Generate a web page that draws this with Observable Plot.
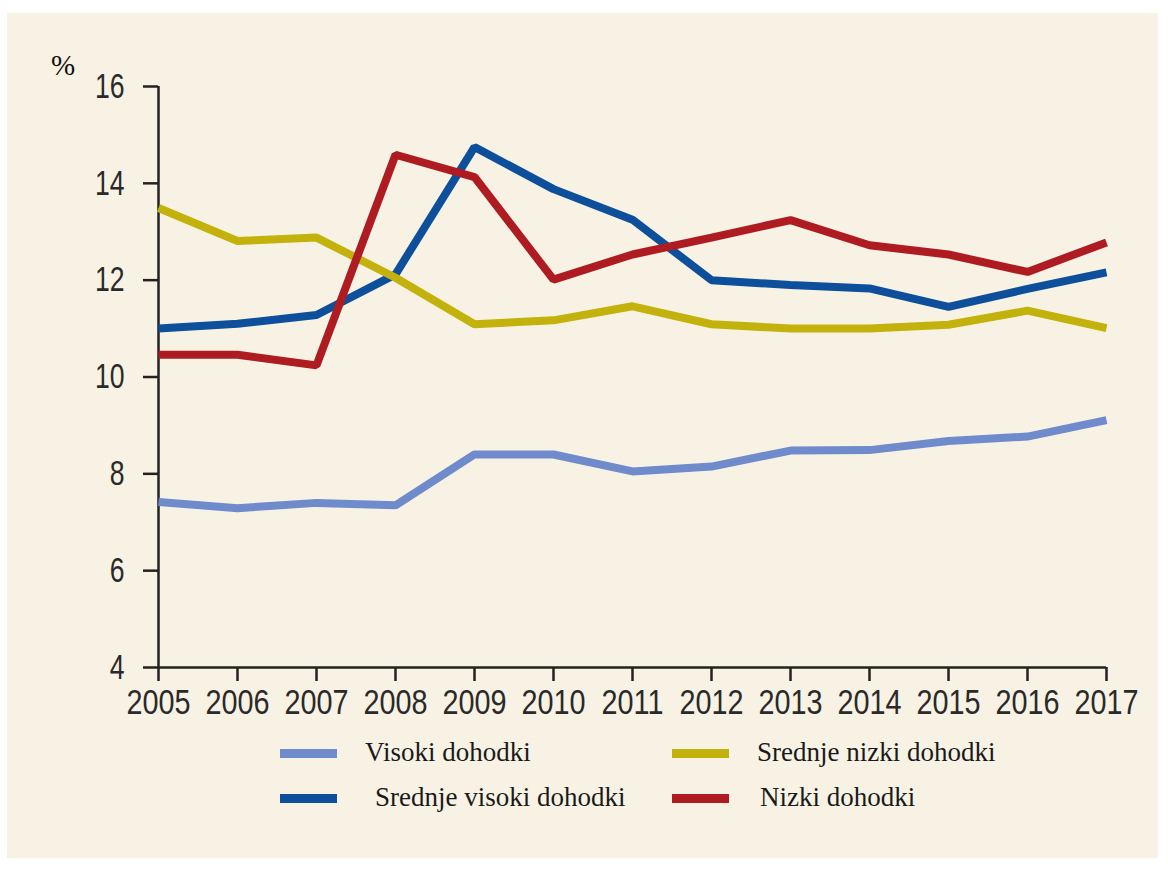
<!DOCTYPE html>
<html>
<head>
<meta charset="utf-8">
<script src="https://cdn.jsdelivr.net/npm/d3@7"></script>
<script src="https://cdn.jsdelivr.net/npm/@observablehq/plot@0.6"></script>
<style>
  html, body { margin: 0; padding: 0; background: #ffffff; width: 1168px; height: 869px; overflow: hidden; }
  #box { position: absolute; left: 7px; top: 13px; width: 1151px; height: 845px; background: #f8f2e4; }
  #chart { position: absolute; left: 0; top: 0; }
  #unit { position: absolute; left: 44px; top: 36px; font-family: "Liberation Serif", "Times New Roman", serif; font-size: 29px; color: #111; }
  .lg { position: absolute; font-family: "Liberation Serif", "Times New Roman", serif; font-size: 27px; color: #1a1a1a; line-height: 1; }
  .sw { position: absolute; width: 57px; height: 9px; }
</style>
</head>
<body>
<div id="box">
  <div id="chart"></div>
  <div id="unit">%</div>
  <div id="legend"></div>
</div>
<script>
const years = [2005, 2006, 2007, 2008, 2009, 2010, 2011, 2012, 2013, 2014, 2015, 2016, 2017];
const seriesNames = ["Visoki dohodki", "Srednje visoki dohodki", "Srednje nizki dohodki", "Nizki dohodki"];
const visoki        = [7.42, 7.29, 7.40, 7.35, 8.40, 8.40, 8.05, 8.15, 8.48, 8.49, 8.68, 8.77, 9.11];
const srednjeVisoki = [11.00, 11.10, 11.28, 12.12, 14.75, 13.88, 13.25, 12.00, 11.90, 11.83, 11.45, 11.82, 12.16];
const srednjeNizki  = [13.49, 12.81, 12.88, 12.05, 11.09, 11.17, 11.46, 11.09, 11.00, 11.00, 11.08, 11.37, 11.01];
const nizki         = [10.46, 10.46, 10.24, 14.59, 14.13, 12.01, 12.53, 12.88, 13.24, 12.72, 12.53, 12.17, 12.78];
const yTicks = [4, 6, 8, 10, 12, 14, 16];
const colors = ["#6f8bcb", "#0d4f9b", "#c3b20c", "#ae1c22"];

const seriesValues = [visoki, srednjeVisoki, srednjeNizki, nizki];
const data = [];
seriesNames.forEach((name, i) => {
  years.forEach((yr, j) => data.push({ series: name, year: yr, value: seriesValues[i][j] }));
});

const tickFont = '"Liberation Sans", Arial, sans-serif';

const plot = Plot.plot({
  width: 1151,
  height: 725,
  marginLeft: 151,
  marginRight: 52,
  marginTop: 73,
  marginBottom: 71,
  style: { background: "transparent", fontFamily: tickFont, color: "#222" },
  x: { domain: [2005, 2017], label: null },
  y: { domain: [4, 16], label: null },
  color: { domain: seriesNames, range: colors },
  marks: [
    Plot.axisX({ ticks: years, tickFormat: d => String(d), tickSize: 14, tickPadding: 7, fontSize: 36, strokeWidth: 2.5, stroke: "#222", fill: "#2a2a2a", label: null }),
    Plot.axisY({ ticks: yTicks, tickSize: 15, tickPadding: 19, fontSize: 35, strokeWidth: 2.5, stroke: "#222", fill: "#2a2a2a", label: null }),
    Plot.ruleX([2005], { y1: 4, y2: 16, stroke: "#222", strokeWidth: 2.5 }),
    Plot.ruleY([4], { x1: 2005, x2: 2017, stroke: "#222", strokeWidth: 2.5 }),
    Plot.line(data, { x: "year", y: "value", stroke: "series", z: "series", strokeWidth: 8, strokeLinecap: "butt", strokeLinejoin: "miter" })
  ]
});

// condense tick label glyphs horizontally (narrow font look)
function condense(sel, sx) {
  plot.querySelectorAll(sel).forEach(t => {
    const tr = t.getAttribute("transform");
    if (tr) {
      t.setAttribute("transform", tr + ` scale(${sx},1)`);
    } else {
      const x = t.getAttribute("x") || 0, y = t.getAttribute("y") || 0;
      t.removeAttribute("x"); t.removeAttribute("y");
      t.setAttribute("transform", `translate(${x},${y}) scale(${sx},1)`);
    }
  });
}
condense('g[aria-label="x-axis tick label"] text', 0.8);
condense('g[aria-label="y-axis tick label"] text', 0.76);
document.getElementById("chart").appendChild(plot);

// legend
const legendPos = [
  { sx: 273, tx: 358, y: 740 },
  { sx: 273, tx: 368, y: 785 },
  { sx: 665, tx: 750, y: 740 },
  { sx: 665, tx: 753, y: 785 }
];
const lg = document.getElementById("legend");
seriesNames.forEach((name, i) => {
  const p = legendPos[i];
  const sw = document.createElement("div");
  sw.className = "sw";
  sw.style.left = p.sx + "px";
  sw.style.top = (p.y - 4.5) + "px";
  sw.style.background = colors[i];
  lg.appendChild(sw);
  const t = document.createElement("div");
  t.className = "lg";
  t.textContent = name;
  t.style.left = p.tx + "px";
  t.style.top = (p.y - 14) + "px";
  lg.appendChild(t);
});
</script>
</body>
</html>
